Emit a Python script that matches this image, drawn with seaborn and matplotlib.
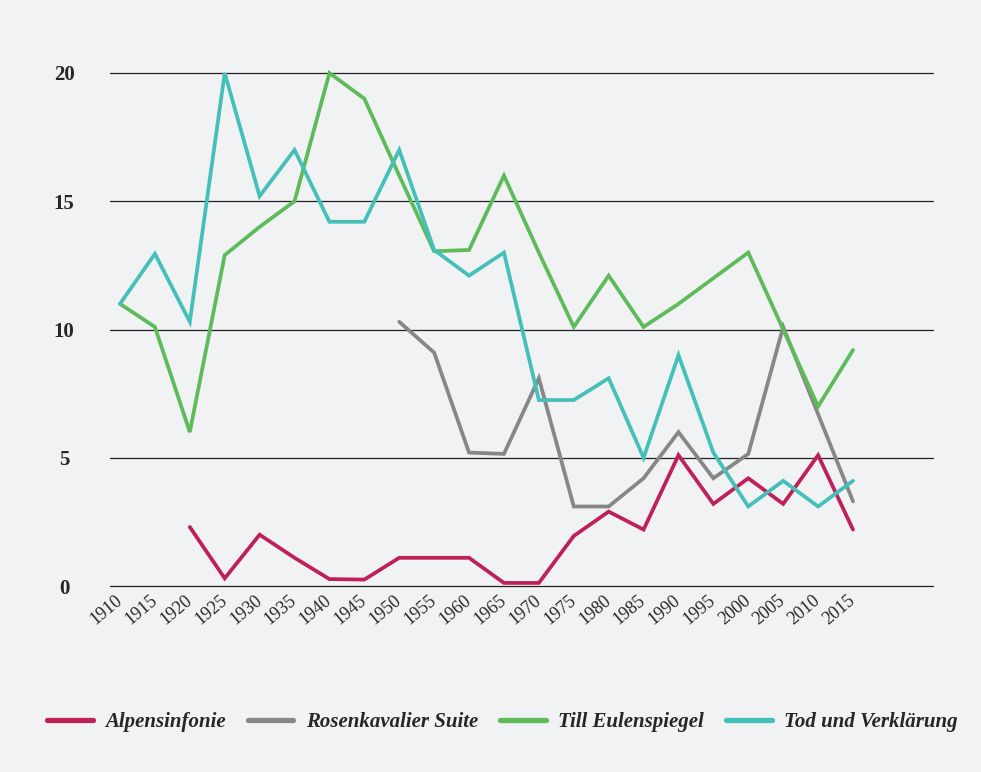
import numpy as np
import pandas as pd
import matplotlib
matplotlib.use("Agg")
import matplotlib.pyplot as plt
import seaborn as sns

years = [1910, 1915, 1920, 1925, 1930, 1935, 1940, 1945, 1950, 1955, 1960,
         1965, 1970, 1975, 1980, 1985, 1990, 1995, 2000, 2005, 2010, 2015]
alpensinfonie = [None, None, 2.3, 0.3, 2.0, 1.1, 0.27, 0.25, 1.1, 1.1, 1.1,
                 0.12, 0.12, 1.95, 2.9, 2.2, 5.1, 3.2, 4.2, 3.2, 5.1, 2.2]
rosenkavalier = [None, None, None, None, None, None, None, None, 10.3, 9.1, 5.2,
                 5.15, 8.1, 3.1, 3.1, 4.2, 6.0, 4.2, 5.15, 10.1, 6.7, 3.3]
till = [11.0, 10.1, 6.0, 12.9, 14.0, 15.0, 20.0, 19.0, 16.0, 13.05, 13.1,
        16.0, 13.0, 10.1, 12.1, 10.1, 11.0, 12.0, 13.0, 10.0, 7.0, 9.2]
tod = [11.0, 12.95, 10.3, 20.0, 15.2, 17.0, 14.2, 14.2, 17.0, 13.1, 12.1,
       13.0, 7.25, 7.25, 8.1, 5.0, 9.0, 5.2, 3.1, 4.1, 3.1, 4.1]
series_names = ["Alpensinfonie", "Rosenkavalier Suite", "Till Eulenspiegel", "Tod und Verklärung"]
colors = ["#bf2157", "#878787", "#5dbb5a", "#45c0b9"]
y_ticks = [0, 5, 10, 15, 20]

rows = []
for name, vals in zip(series_names, [alpensinfonie, rosenkavalier, till, tod]):
    for yr, v in zip(years, vals):
        if v is not None:
            rows.append({"year": yr, "value": v, "series": name})
df = pd.DataFrame(rows)

sns.set_theme(style="white")
plt.rcParams["font.family"] = ["Liberation Serif", "DejaVu Serif"]
bg = "#f1f2f4"

fig = plt.figure(figsize=(9.81, 7.72), dpi=100, facecolor=bg)
ax = fig.add_axes([110/981, 1-586/772, (933-110)/981, (586-73)/772], facecolor=bg)

for yv in y_ticks:
    ax.axhline(yv, color="#222222", linewidth=0.9, zorder=0, clip_on=False)

sns.lineplot(data=df, x="year", y="value", hue="series", hue_order=series_names,
             palette=colors, linewidth=2.7, ax=ax, legend=False, estimator=None)
for ln in ax.lines[len(y_ticks):]:
    ln.set_clip_on(False)
    ln.set_solid_joinstyle("miter")

px_per_year = (853-120)/105.0
ax.set_xlim(1910 - 10/px_per_year, 1910 + (933-120)/px_per_year)
ax.set_ylim(0, 20)
ax.set_yticks(y_ticks)
ax.set_yticklabels([str(t) for t in y_ticks], fontsize=15, fontweight="bold", ha="center")
ax.set_xticks(years)
ax.set_xticklabels([str(y) for y in years], rotation=40, ha="right", va="center",
                   rotation_mode="anchor", fontsize=13)
ax.tick_params(axis="y", length=0, pad=33)
ax.tick_params(axis="x", length=0, pad=9)
for s in ax.spines.values():
    s.set_visible(False)
ax.set_xlabel("")
ax.set_ylabel("")

handles = [plt.Line2D([0], [0], color=c, linewidth=3.8) for c in colors]
fig.legend(handles, series_names, loc="center", bbox_to_anchor=(0.512, 1-722/772),
           ncol=4, frameon=False, handlelength=2.2, columnspacing=1.05,
           handletextpad=0.6, prop={"size": 15, "style": "italic", "weight": "bold"})

fig.savefig("out.png", dpi=100, facecolor=bg)
